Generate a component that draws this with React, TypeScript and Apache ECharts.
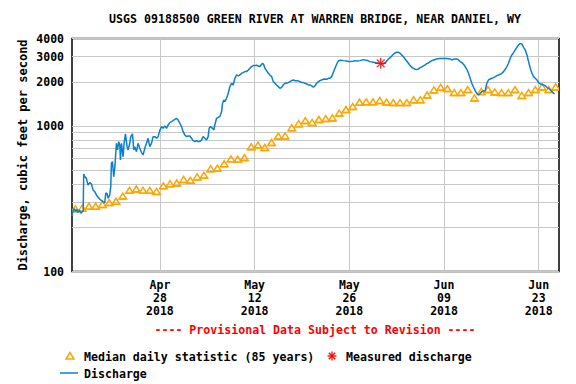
import React, { useEffect, useRef } from "react";
import * as echarts from "echarts";

// x values are days since 2018-04-15 00:00
const titleText = "USGS 09188500 GREEN RIVER AT WARREN BRIDGE, NEAR DANIEL, WY";
const yAxisTitle = "Discharge, cubic feet per second";
const provisionalText = "---- Provisional Data Subject to Revision ----";
const legendMedian = "Median daily statistic (85 years)";
const legendMeasured = "Measured discharge";
const legendDischarge = "Discharge";

const xTickDays = [13, 27, 41, 55, 69];
const xTickLabels = ["Apr\n28\n2018", "May\n12\n2018", "May\n26\n2018", "Jun\n09\n2018", "Jun\n23\n2018"];
const yLabelValues = [100, 1000, 2000, 3000, 4000];
const yGridValues = [100, 200, 300, 400, 500, 600, 700, 800, 900, 1000, 2000, 3000, 4000];

// median daily statistic, one value per day starting 2018-04-15
const medianCfs = [
  258, 260, 268, 268, 276, 284, 290, 315, 345, 352,
  345, 345, 339, 370, 383, 387, 410, 404, 426, 437,
  486, 490, 525, 568, 564, 579, 687, 706, 679, 735,
  814, 816, 930, 991, 1040, 1010, 1058, 1073, 1085, 1172,
  1240, 1300, 1390, 1400, 1400, 1431, 1395, 1383, 1383, 1383,
  1448, 1448, 1560, 1690, 1760, 1725, 1621, 1621, 1700, 1488,
  1650, 1700, 1636, 1621, 1621, 1700, 1550, 1621, 1700, 1771,
  1700, 1772,
];

const measured: [number, number][] = [[45.64, 2702]];

const discharge: [number, number][] = [
  [0, 240], [0.15, 262], [0.35, 270], [0.5, 258], [0.7, 268], [0.9, 255], [1.1, 265], [1.3, 252], [1.5, 258], [1.65, 260],
  [1.73, 468], [1.88, 449], [2.13, 437], [2.37, 393], [2.62, 408], [2.87, 400], [3.11, 364], [3.36, 354], [3.61, 336], [4.1, 314],
  [4.59, 302], [4.84, 297], [4.99, 345], [5.18, 345], [5.33, 319], [5.58, 336], [5.73, 383], [5.83, 555], [5.98, 569], [6.17, 449],
  [6.32, 512], [6.57, 761], [6.72, 685], [6.91, 782], [7.06, 741], [7.16, 585], [7.31, 761], [7.55, 616], [7.7, 761], [7.9, 883],
  [8.15, 722], [8.29, 685], [8.54, 761], [8.69, 846], [8.94, 883], [9.13, 685], [9.28, 722], [9.53, 667], [9.77, 761], [10.02, 703],
  [10.27, 660], [10.51, 633], [10.76, 703], [11.01, 761], [11.25, 824], [11.5, 722], [11.75, 761], [11.99, 846], [12.24, 846], [12.49, 824],
  [12.73, 846], [12.98, 930], [13.23, 991], [13.47, 965], [13.72, 1002], [13.97, 965], [14.21, 1018], [14.46, 1056], [14.71, 1073], [14.95, 1090],
  [15.2, 1113], [15.45, 1131], [15.69, 1102], [15.94, 1045], [16.19, 991], [16.43, 915], [16.68, 869], [16.93, 846], [17.17, 855], [17.42, 855],
  [17.67, 824], [17.91, 794], [18.16, 782], [18.41, 794], [18.65, 782], [18.9, 782], [19.15, 802], [19.39, 846], [19.64, 824], [19.89, 802],
  [20.13, 846], [20.28, 965], [20.48, 991], [20.78, 965], [20.97, 940], [21.12, 1018], [21.37, 1131], [21.62, 1149], [21.86, 1161], [22.11, 1257],
  [22.26, 1434], [22.45, 1512], [22.6, 1472], [22.85, 1552], [23.1, 1680], [23.34, 1867], [23.59, 1969], [23.83, 1917], [24.08, 2131], [24.33, 2246],
  [24.58, 2211], [24.82, 2246], [25.07, 2307], [25.32, 2331], [25.56, 2368], [25.81, 2368], [26.06, 2431], [26.3, 2496], [26.55, 2563], [26.8, 2604],
  [27.04, 2604], [27.29, 2618], [27.54, 2590], [27.78, 2563], [28.03, 2660], [28.18, 2702], [28.37, 2632], [28.52, 2496], [28.77, 2406], [29.02, 2307],
  [29.26, 2246], [29.51, 2188], [29.76, 2021], [30.0, 1969], [30.25, 1917], [30.5, 1867], [30.74, 1819], [30.99, 1848], [31.24, 1917], [31.48, 1969],
  [31.73, 1969], [31.98, 1990], [32.22, 2021], [32.47, 2053], [32.72, 2075], [32.96, 2053], [33.21, 2053], [33.46, 2042], [33.7, 2021], [33.95, 1990],
  [34.2, 1990], [34.44, 1969], [34.69, 1948], [34.94, 1917], [35.18, 1917], [35.43, 1887], [35.68, 1848], [35.92, 1887], [36.17, 1969], [36.42, 2021],
  [36.66, 2053], [36.91, 2075], [37.16, 2097], [37.4, 2108], [37.65, 2097], [37.9, 2131], [38.14, 2131], [38.39, 2188], [38.64, 2343], [38.88, 2496],
  [39.13, 2660], [39.38, 2804], [39.62, 2834], [40.12, 2818], [40.61, 2804], [40.86, 2774], [41.1, 2774], [41.6, 2789], [41.84, 2818], [42.09, 2804],
  [42.58, 2818], [43.08, 2863], [43.32, 2848], [43.57, 2834], [44.06, 2774], [44.56, 2745], [45.05, 2716], [45.54, 2688], [46.04, 2673], [46.28, 2716],
  [46.53, 2804], [46.78, 2893], [47.03, 2955], [47.27, 3035], [47.52, 3116], [47.76, 3183], [48.01, 3217], [48.26, 3217], [48.51, 3166], [48.75, 3083],
  [49.0, 3002], [49.25, 2893], [49.49, 2804], [49.74, 2702], [49.99, 2604], [50.23, 2537], [50.48, 2496], [50.73, 2457], [50.97, 2444], [51.22, 2470],
  [51.47, 2523], [51.71, 2550], [51.96, 2590], [52.21, 2632], [52.45, 2688], [52.7, 2716], [52.95, 2774], [53.19, 2818], [53.44, 2848], [53.93, 2893],
  [54.43, 2909], [54.92, 2909], [55.41, 2909], [55.9, 2893], [56.15, 2848], [56.4, 2879], [56.65, 2893], [56.89, 2893], [57.14, 2848], [57.39, 2774],
  [57.63, 2731], [57.88, 2660], [58.13, 2563], [58.37, 2457], [58.62, 2307], [58.87, 2131], [59.11, 1969], [59.36, 1848], [59.61, 1752], [59.85, 1680],
  [60.1, 1636], [60.35, 1680], [60.59, 1725], [60.84, 1743], [61.09, 1752], [61.33, 1969], [61.58, 2075], [61.83, 2108], [62.07, 2131], [62.32, 2153],
  [62.57, 2188], [62.81, 2223], [63.06, 2246], [63.31, 2270], [63.55, 2307], [63.8, 2368], [64.05, 2457], [64.29, 2563], [64.54, 2702], [64.79, 2924],
  [65.03, 3083], [65.28, 3199], [65.53, 3337], [65.77, 3481], [66.02, 3612], [66.27, 3689], [66.51, 3669], [66.76, 3481], [67.01, 3337], [67.26, 3083],
  [67.5, 2773], [67.75, 2496], [68.0, 2307], [68.24, 2188], [68.49, 2131], [68.74, 2075], [68.98, 1990], [69.23, 1948], [69.48, 1937], [69.72, 1917],
  [69.97, 1887], [70.22, 1848], [70.46, 1819], [70.71, 1772], [70.96, 1725], [71.2, 1680], [71.35, 1663],
];

const FONT = "'DejaVu Sans Mono', 'Liberation Mono', monospace";
const ORANGE = "#ffa500";
const BLUE = "#0a80d0";
const RED = "#ff0000";

export default function App() {
  const ref = useRef<HTMLDivElement>(null);
  useEffect(() => {
    document.body.style.margin = "0";
    if (!ref.current) return;
    const chart = echarts.init(ref.current, null, { renderer: "svg" });
    const starLines = (cx: number, cy: number, r: number) => {
      const d = r * 0.7071;
      return [
        [cx - r, cy, cx + r, cy],
        [cx, cy - r, cx, cy + r],
        [cx - d, cy - d, cx + d, cy + d],
        [cx - d, cy + d, cx + d, cy - d],
      ].map((s) => ({
        type: "line",
        shape: { x1: s[0], y1: s[1], x2: s[2], y2: s[3] },
        style: { stroke: RED, lineWidth: 1.3 },
      }));
    };
    chart.setOption({
      animation: false,
      backgroundColor: "#fff",
      grid: {
        left: 72,
        right: 17,
        top: 38.5,
        bottom: 112.5,
        show: true,
        borderColor: "#000",
        borderWidth: 1.5,
        backgroundColor: "transparent",
      },
      xAxis: {
        type: "value",
        min: 0,
        max: 72,
        axisLine: { show: false },
        axisTick: { show: false, customValues: xTickDays },
        splitLine: { show: true, lineStyle: { color: "#c8c8c8", width: 1 } },
        axisLabel: {
          customValues: xTickDays,
          formatter: (v: number) => xTickLabels[xTickDays.indexOf(v)] ?? "",
          color: "#000",
          fontFamily: FONT,
          fontWeight: "bold",
          fontSize: 11.5,
          lineHeight: 13,
          margin: 7,
        },
      },
      yAxis: {
        type: "log",
        logBase: 10,
        min: 100,
        max: 4000,
        name: yAxisTitle,
        nameLocation: "middle",
        nameGap: 43,
        nameMoveOverlap: false,
        nameTextStyle: { color: "#000", fontFamily: FONT, fontWeight: "bold", fontSize: 12 },
        axisLine: { show: false },
        axisTick: { show: false, customValues: yGridValues },
        splitLine: { show: true, lineStyle: { color: "#c8c8c8", width: 1 } },
        axisLabel: {
          customValues: yLabelValues,
          formatter: (v: number) => String(Math.round(v)),
          color: "#000",
          fontFamily: FONT,
          fontWeight: "bold",
          fontSize: 11.5,
          margin: 8,
        },
      },
      graphic: [
        {
          type: "text",
          x: 315,
          y: 19,
          style: { text: titleText, fill: "#000", font: `bold 11.6px ${FONT}`, align: "center", verticalAlign: "middle" },
        },
        {
          type: "text",
          x: 315,
          y: 330,
          style: { text: provisionalText, fill: RED, font: `bold 11.6px ${FONT}`, align: "center", verticalAlign: "middle" },
        },
        {
          type: "polygon",
          shape: { points: [[66, 359], [74, 359], [70, 352.5]] },
          style: { fill: "none", stroke: ORANGE, lineWidth: 1.5 },
        },
        {
          type: "text",
          x: 84,
          y: 356.5,
          style: { text: legendMedian, fill: "#000", font: `bold 11.6px ${FONT}`, verticalAlign: "middle" },
        },
        { type: "group", children: starLines(332, 356, 4.5) },
        {
          type: "text",
          x: 346,
          y: 356.5,
          style: { text: legendMeasured, fill: "#000", font: `bold 11.6px ${FONT}`, verticalAlign: "middle" },
        },
        {
          type: "line",
          shape: { x1: 60, y1: 373, x2: 78, y2: 373 },
          style: { stroke: BLUE, lineWidth: 1.5 },
        },
        {
          type: "text",
          x: 84,
          y: 373.5,
          style: { text: legendDischarge, fill: "#000", font: `bold 11.6px ${FONT}`, verticalAlign: "middle" },
        },
      ],
      series: [
        {
          name: legendMedian,
          type: "custom",
          clip: true,
          data: medianCfs.map((v, i) => [i, v]),
          encode: { x: 0, y: 1 },
          renderItem: (params: any, api: any) => {
            const d = api.value(0);
            const v = api.value(1);
            const p0 = api.coord([d, v]);
            const p1 = api.coord([d + 1, v]);
            const cx = (p0[0] + p1[0]) / 2;
            const y = p0[1];
            return {
              type: "group",
              children: [
                {
                  type: "line",
                  shape: { x1: p0[0], y1: y, x2: p1[0], y2: y },
                  style: { stroke: ORANGE, lineWidth: 1.5 },
                },
                {
                  type: "polygon",
                  shape: { points: [[cx - 3.8, y], [cx + 3.8, y], [cx, y - 6]] },
                  style: { fill: "none", stroke: ORANGE, lineWidth: 1.5 },
                },
              ],
            };
          },
          z: 2,
        },
        {
          name: legendDischarge,
          type: "line",
          data: discharge,
          showSymbol: false,
          symbol: "none",
          lineStyle: { color: BLUE, width: 1.5 },
          z: 3,
        },
        {
          name: legendMeasured,
          type: "scatter",
          data: measured,
          symbol: "path://M5 0L5 10M0 5L10 5M1.46 1.46L8.54 8.54M8.54 1.46L1.46 8.54",
          symbolSize: 11,
          itemStyle: { color: "transparent", borderColor: RED, borderWidth: 1.4 },
          z: 4,
        },
      ],
    });
    return () => chart.dispose();
  }, []);
  return <div ref={ref} style={{ width: 576, height: 384 }} />;
}
